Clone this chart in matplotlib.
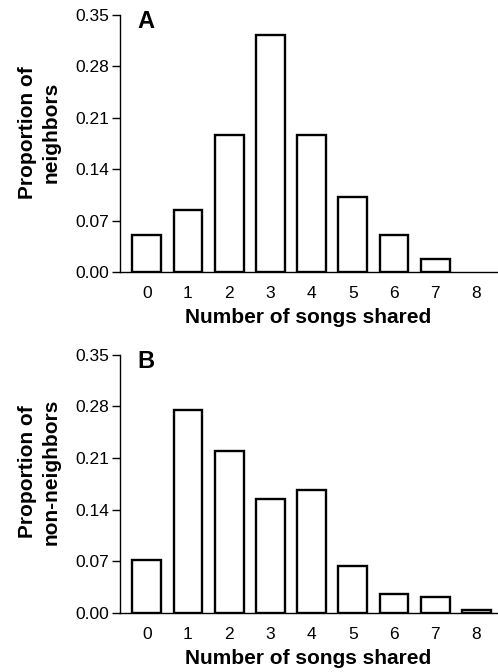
import matplotlib.pyplot as plt

songs_shared = [0, 1, 2, 3, 4, 5, 6, 7, 8]
neighbors = [0.051, 0.085, 0.187, 0.323, 0.187, 0.102, 0.051, 0.018, 0.0]
non_neighbors = [0.072, 0.275, 0.220, 0.154, 0.167, 0.064, 0.026, 0.022, 0.0045]
y_ticks = [0.00, 0.07, 0.14, 0.21, 0.28, 0.35]

plt.rcParams['font.family'] = ['Liberation Sans', 'DejaVu Sans']

fig = plt.figure(figsize=(4.98, 6.72), dpi=100)
ax_a = fig.add_axes([0.241, 0.595, 0.757, 0.383])
ax_b = fig.add_axes([0.241, 0.088, 0.757, 0.384])

panels = [
    (ax_a, neighbors, 'A', 'Proportion of\nneighbors', 0.543),
    (ax_b, non_neighbors, 'B', 'Proportion of\nnon-neighbors', 0.547),
]

for ax, values, letter, ylabel, ylab_y in panels:
    # no outline for empty classes
    edges = ['black' if v > 0 else 'none' for v in values]
    ax.bar(songs_shared, values, width=0.7, color='white', edgecolor=edges, linewidth=1.7)
    ax.set_xlim(-0.65, 8.5)
    ax.set_ylim(0, 0.35)
    ax.set_yticks(y_ticks)
    ax.set_yticklabels(['%.2f' % t for t in y_ticks])
    ax.set_xticks(songs_shared)
    ax.spines['top'].set_visible(False)
    ax.spines['right'].set_visible(False)
    ax.spines['left'].set_linewidth(1.0)
    ax.spines['bottom'].set_linewidth(1.0)
    ax.tick_params(axis='y', length=6, width=1.0, labelsize=12.5, pad=2)
    ax.tick_params(axis='x', length=0, labelsize=12.5, pad=10)

    ax.set_xlabel('Number of songs shared', fontsize=15, fontweight='bold')
    ax.xaxis.set_label_coords(0.5, -0.175)
    ax.xaxis.label.set_va('center')

    ax.set_ylabel(ylabel, fontsize=15, fontweight='bold', linespacing=1.3)
    ax.yaxis.set_label_coords(-0.215, ylab_y)
    ax.yaxis.label.set_va('center')
    ax.yaxis.label.set_ha('center')

    ax.text(0.045, 1.018, letter, transform=ax.transAxes, fontsize=17, fontweight='bold',
            va='top', ha='left')

fig.savefig('out.png', dpi=100)
